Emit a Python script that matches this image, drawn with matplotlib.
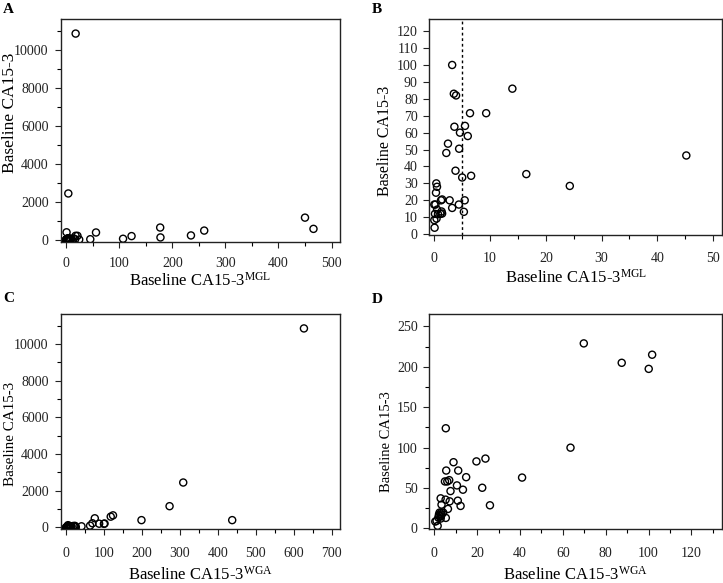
import matplotlib
matplotlib.use("Agg")
import matplotlib.pyplot as plt
from matplotlib.ticker import MultipleLocator

plt.rcParams['font.family'] = ['Liberation Serif', 'DejaVu Serif']
plt.rcParams['mathtext.fontset'] = 'custom'
plt.rcParams['mathtext.rm'] = 'Liberation Serif'
plt.rcParams['mathtext.it'] = 'Liberation Serif:italic'
plt.rcParams['mathtext.bf'] = 'Liberation Serif:bold'

# ---- Panel B data (MGL zoom, also part of A) ----
mgl_low = [3.2, 3.5, 3.9, 14.0, 6.4, 9.3, 3.6, 5.5, 4.6, 6.0,
           2.45, 2.15, 4.45, 3.8, 5.0, 6.6, 16.5, 24.3, 45.2, 0.36,
           0.48, 0.3, 0.2, 0.0, 1.2, 1.4, 2.75, 5.45, 4.4, 3.2,
           5.3, 0.5, 1.3, 1.4, 1.1, 0.66, 0.12, 0.4, 0.0, 0.05]
ca_mgl_low = [100, 83, 82, 86, 71.5, 71.5, 63.5, 64, 60, 58,
              53.5, 48, 50.5, 37.5, 33.5, 34.5, 35.5, 28.5, 46.5, 30,
              28, 24.5, 17.5, 17.5, 20, 20.5, 20, 20, 17.5, 15.5,
              13.2, 14.5, 13.4, 12.2, 12, 11.8, 12, 9.2, 8.3, 3.8]
# additional points only visible in panel A
mgl_high = [17.6, 3.8, 0.5, 56, 17.5, 21, 107, 123, 177, 177.5,
            235, 260, 450, 466]
ca_mgl_high = [10850, 2450, 410, 400, 225, 225, 70, 210, 660, 140,
               245, 500, 1180, 590]

# ---- Panel D data (WGA zoom, also part of C) ----
wga_low = [69.8, 87.5, 101.7, 100.1, 63.6, 41.0, 5.4, 19.7, 23.9, 9.0,
           11.2, 5.6, 14.9, 7.0, 5.0, 6.1, 10.6, 22.4, 13.4, 7.6,
           3.0, 5.3, 7.2, 11.0, 3.4, 12.3, 26.0, 6.4, 5.4,
           2.5, 3.3, 4.2, 2.2, 3.4, 2.3, 3.1, 1.9, 3.0, 1.1, 0.5, 1.6]
ca_wga_low = [229, 205, 215, 197.5, 100, 63, 124, 83, 86.5, 82,
              71.7, 71.7, 63.5, 59.8, 58.2, 58.2, 53.3, 50.4, 48, 46.3,
              37.3, 35.7, 33.6, 34.4, 29.5, 27.9, 28.7, 24.2, 13.1,
              19.7, 19.7, 19.7, 17.2, 17.2, 15.6, 15.1, 13.5, 12.3, 9.5, 8.6, 3.3]
# additional points only visible in panel C
wga_high = [627, 309, 273, 438, 199, 124, 118, 76]
ca_wga_high = [10850, 2450, 1160, 400, 400, 660, 590, 500]

W, H = 723, 583
fig = plt.figure(figsize=(W / 100, H / 100), dpi=100)


def box(l, t, r, b):
    return [l / W, 1 - b / H, (r - l) / W, (b - t) / H]


axA = fig.add_axes(box(61, 19.3, 340, 242))
axB = fig.add_axes(box(429.3, 19.3, 722, 235))
axC = fig.add_axes(box(61, 314.3, 340, 529.3))
axD = fig.add_axes(box(429.3, 314.3, 722, 529.3))

mk = dict(s=26, facecolors='none', edgecolors='black', linewidths=1.0, zorder=3)

axA.scatter(mgl_low + mgl_high, ca_mgl_low + ca_mgl_high, **mk)
axB.scatter(mgl_low, ca_mgl_low, **mk)
axC.scatter(wga_low + wga_high, ca_wga_low + ca_wga_high, **mk)
axD.scatter(wga_low, ca_wga_low, **mk)

axB.axvline(5, color='black', linestyle=(0, (2, 2)), linewidth=1.0, zorder=2)

axA.set_xlim(-10, 516); axA.set_ylim(-100, 11600)
axA.xaxis.set_major_locator(MultipleLocator(100)); axA.xaxis.set_minor_locator(MultipleLocator(50))
axA.yaxis.set_major_locator(MultipleLocator(2000)); axA.yaxis.set_minor_locator(MultipleLocator(1000))

axB.set_xlim(-0.9, 51.6); axB.set_ylim(-0.5, 127)
axB.xaxis.set_major_locator(MultipleLocator(10)); axB.xaxis.set_minor_locator(MultipleLocator(5))
axB.yaxis.set_major_locator(MultipleLocator(10))

axC.set_xlim(-13, 722); axC.set_ylim(-100, 11620)
axC.xaxis.set_major_locator(MultipleLocator(100)); axC.xaxis.set_minor_locator(MultipleLocator(50))
axC.yaxis.set_major_locator(MultipleLocator(2000)); axC.yaxis.set_minor_locator(MultipleLocator(1000))

axD.set_xlim(-2.3, 134.3); axD.set_ylim(-1, 265)
axD.xaxis.set_major_locator(MultipleLocator(20)); axD.xaxis.set_minor_locator(MultipleLocator(10))
axD.yaxis.set_major_locator(MultipleLocator(50)); axD.yaxis.set_minor_locator(MultipleLocator(25))

labels = {axA: r'Baseline CA15-3$^{\mathrm{MGL}}$', axB: r'Baseline CA15-3$^{\mathrm{MGL}}$',
          axC: r'Baseline CA15-3$^{\mathrm{WGA}}$', axD: r'Baseline CA15-3$^{\mathrm{WGA}}$'}
xl_y = {axA: -0.135, axB: -0.155, axC: -0.17, axD: -0.17}
yl = {axA: (-0.153, 0.58), axB: (-0.123, 0.438), axC: (-0.158, 0.443), axD: (-0.123, 0.41)}
yl_size = {axA: 12.5, axB: 11.5, axC: 10.8, axD: 10.5}
xpad = {axA: 6.5, axB: 8.5, axC: 8.5, axD: 8.5}
ypad = {axA: 5, axB: 4.3, axC: 5, axD: 4.3}

for ax in (axA, axB, axC, axD):
    for sp in ax.spines.values():
        sp.set_color('#222222')
        sp.set_linewidth(1.0)
    ax.tick_params(which='major', direction='out', length=4, width=0.8, labelsize=10, colors='#222222')
    ax.tick_params(which='minor', direction='out', length=3, width=0.8)
    ax.tick_params(axis='x', which='major', pad=xpad[ax])
    ax.tick_params(axis='y', which='major', pad=ypad[ax])
    ax.set_xlabel(labels[ax], fontsize=12)
    ax.set_ylabel('Baseline CA15-3', fontsize=yl_size[ax])
    ax.xaxis.set_label_coords(0.5, xl_y[ax])
    ax.yaxis.set_label_coords(*yl[ax])

for txt, x, y in (('A', 3, 3), ('B', 372, 3), ('C', 3, 292), ('D', 372, 293)):
    fig.text(x / W, 1 - y / H, txt, fontsize=11, fontweight='bold', ha='left', va='top')

fig.savefig('out.png', dpi=100)
